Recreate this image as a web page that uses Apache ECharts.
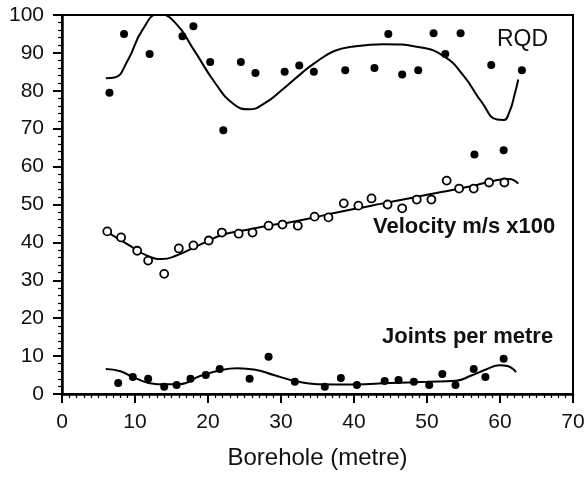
<!DOCTYPE html>
<html><head><meta charset="utf-8">
<script src="https://cdn.jsdelivr.net/npm/echarts@6/dist/echarts.min.js"></script>
<style>html,body{margin:0;padding:0;background:#fff}#c{width:588px;height:477px}</style>
</head><body><div id="c"></div>
<script>
// RQD measured points [depth, value]
var rqdPoints = [[6.5,79.5],[8.5,95],[12,89.7],[16.5,94.4],[18,97],[20.3,87.6],[22.1,69.6],[24.5,87.6],[26.5,84.7],[30.5,85],[32.5,86.7],[34.5,85],[38.8,85.4],[42.8,86],[44.7,95],[46.6,84.3],[48.8,85.4],[50.9,95.2],[52.5,89.7],[54.6,95.2],[58.8,86.8],[63,85.4],[56.5,63.2],[60.5,64.3]];
// RQD fitted curve
var rqdCurve = [[6,83.3],[7.2,83.5],[9,88],[11,96],[13.3,100.3],[15.5,98],[18,91],[21,82],[23.5,76.5],[25.6,75.1],[28,77],[30,80],[32.8,84.6],[34.6,87.3],[37.3,90.5],[40,91.7],[44,92.3],[49,91.5],[52.4,89],[55,84],[57.5,77],[59.6,72.4],[60.5,72.3],[61.3,74.5],[62,79],[62.5,83]];
// Velocity (m/s x100) measured points
var velPoints = [[6.2,42.9],[8.1,41.3],[10.3,37.8],[11.8,35.2],[14,31.7],[16,38.4],[18,39.2],[20.1,40.5],[21.9,42.6],[24.2,42.3],[26.1,42.6],[28.3,44.4],[30.2,44.7],[32.3,44.4],[34.6,46.8],[36.5,46.6],[38.6,50.3],[40.6,49.7],[42.4,51.6],[44.6,50],[46.6,49],[48.6,51.3],[50.6,51.3],[52.7,56.3],[54.4,54.2],[56.4,54.2],[58.5,55.8],[60.6,55.8]];
// Velocity fitted curve
var velCurve = [[6.2,42.7],[9,39.5],[12,36.2],[13.7,35.6],[15.5,36.4],[19,39.5],[22,42],[25,43.2],[28,44.3],[32,45.6],[36,47.2],[40,48.8],[44,50.3],[48,51.8],[52,53.3],[56,54.8],[59,56.2],[61.2,56.7],[62.5,55.5]];
// Joints per metre measured points
var jointPoints = [[7.7,2.9],[9.7,4.5],[11.8,4],[14,1.9],[15.7,2.4],[17.6,4],[19.7,5],[21.6,6.6],[25.7,4],[28.3,9.8],[31.9,3.2],[36,1.9],[38.2,4.2],[40.4,2.4],[44.2,3.4],[46.1,3.7],[48.2,3.2],[50.3,2.4],[52.1,5.3],[53.9,2.4],[56.4,6.6],[58,4.5],[60.5,9.3]];
// Joints fitted curve
var jointCurve = [[6,6.6],[8,6],[10,4.2],[13,2.6],[16,2.6],[19,4.8],[22,6.4],[24,6.8],[26.5,6.4],[29,5],[32,3.4],[35,2.6],[40,2.5],[45,2.9],[50,3.2],[54,3.5],[56,4.8],[58,6.4],[60,7.6],[61,7.4],[62.2,5.8]];
var xLabel = 'Borehole (metre)';
var seriesLabels = ['RQD','Velocity m/s x100','Joints per metre'];

var FONT = 'Liberation Sans, Arial, sans-serif';
var chart = echarts.init(document.getElementById('c'), null, {renderer:'canvas'});
var lineS = function(d){return {type:'line',data:d,smooth:0.5,showSymbol:false,symbol:'none',lineStyle:{color:'#000',width:2},z:2,silent:true,animation:false};};
var dotS = function(d){return {type:'scatter',data:d,symbolSize:8,itemStyle:{color:'#000',opacity:1},z:3,animation:false};};
var ringS = function(d){return {type:'scatter',data:d,symbolSize:8,itemStyle:{color:'#fff',borderColor:'#000',borderWidth:1.8,opacity:1},z:3,animation:false};};
chart.setOption({
  backgroundColor:'#fff',
  animation:false,
  grid:{left:62,right:15,top:15,bottom:83,show:true,borderColor:'#000',borderWidth:2,backgroundColor:'transparent'},
  xAxis:{type:'value',min:0,max:70,interval:10,
    name:xLabel,nameLocation:'middle',nameGap:52,nameTextStyle:{fontFamily:FONT,fontSize:24,color:'#111'},
    axisLine:{lineStyle:{color:'#000',width:2.5}},
    axisTick:{show:true,length:9,lineStyle:{color:'#000',width:2}},
    minorTick:{show:true,splitNumber:10,length:4,lineStyle:{color:'#000',width:1.2}},
    axisLabel:{fontFamily:FONT,fontSize:21,color:'#111',margin:18},
    splitLine:{show:false}},
  yAxis:{type:'value',min:0,max:100,interval:10,
    axisLine:{show:true,lineStyle:{color:'#000',width:2.5}},
    axisTick:{show:true,length:9,lineStyle:{color:'#000',width:2}},
    minorTick:{show:true,splitNumber:5,length:4,lineStyle:{color:'#000',width:1.2}},
    axisLabel:{fontFamily:FONT,fontSize:21,color:'#111',margin:18},
    splitLine:{show:false}},
  graphic:[
    {type:'text',x:497,y:40,style:{text:seriesLabels[0],font:'23px '+FONT,fill:'#111',verticalAlign:'middle'}},
    {type:'text',x:373,y:227,style:{text:seriesLabels[1],font:'bold 22px '+FONT,fill:'#111',verticalAlign:'middle'}},
    {type:'text',x:382,y:337,style:{text:seriesLabels[2],font:'bold 22px '+FONT,fill:'#111',verticalAlign:'middle'}}
  ],
  series:[lineS(rqdCurve),dotS(rqdPoints),lineS(velCurve),ringS(velPoints),lineS(jointCurve),dotS(jointPoints)]
});
</script></body></html>
